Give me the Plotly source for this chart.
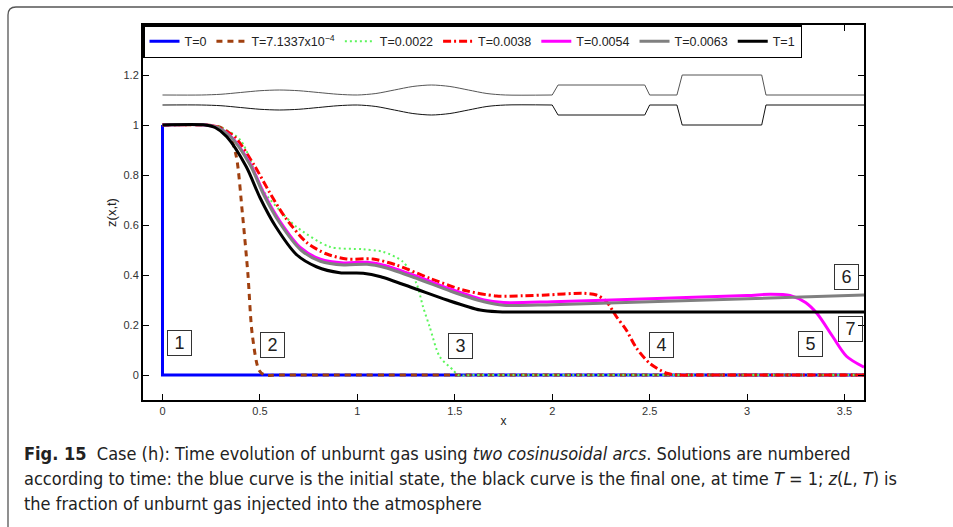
import plotly.graph_objects as go

# ---------------------------------------------------------------------------
# Solutions z(x, T) of the unburnt-gas fraction at several times
# ---------------------------------------------------------------------------
x_t0 = [0.0, 0.0, 3.6]
z_t0 = [1.0, 0.0, 0.0]

x_t1 = [0.0, 0.22, 0.3, 0.344, 0.379, 0.41, 0.438, 0.46, 0.495, 0.524, 0.6, 3.6]
z_t1 = [1.0, 1.0, 0.99, 0.96, 0.873, 0.647, 0.407, 0.167, 0.02, 0.0, 0.0, 0.0]

x_t2 = [0.0, 0.22, 0.3, 0.4, 0.515, 0.6, 0.687, 0.858, 1.029, 1.131, 1.234,
        1.303, 1.337, 1.371, 1.423, 1.491, 1.517, 1.6, 3.6]
z_t2 = [1.0, 1.0, 0.99, 0.94, 0.74, 0.66, 0.593, 0.513, 0.503, 0.493, 0.453,
        0.367, 0.273, 0.193, 0.073, 0.02, 0.0, 0.0, 0.0]

x_t3 = [0.0, 0.22, 0.29, 0.37, 0.47, 0.55, 0.63, 0.74, 0.84, 0.944, 1.08, 1.2,
        1.371, 1.542, 1.714, 1.85, 1.97, 2.16, 2.227, 2.279, 2.33, 2.38, 2.433,
        2.5, 2.587, 2.65, 2.75, 3.6]
z_t3 = [1.0, 1.0, 0.99, 0.953, 0.84, 0.73, 0.63, 0.53, 0.485, 0.464, 0.464, 0.44,
        0.387, 0.34, 0.316, 0.317, 0.32, 0.327, 0.32, 0.293, 0.233, 0.18, 0.107,
        0.047, 0.007, 0.0, 0.0, 0.0]

x_t4 = [0.0, 0.22, 0.28, 0.35, 0.45, 0.52, 0.6, 0.71, 0.81, 0.93, 1.05, 1.14,
        1.31, 1.48, 1.65, 1.75, 2.0, 2.5, 3.0, 3.12, 3.22, 3.3, 3.36, 3.44, 3.51, 3.6]
z_t4 = [1.0, 1.0, 0.99, 0.955, 0.845, 0.727, 0.618, 0.508, 0.463, 0.448, 0.451, 0.438,
        0.393, 0.343, 0.3, 0.29, 0.293, 0.305, 0.318, 0.323, 0.318, 0.29, 0.245,
        0.153, 0.075, 0.031]

x_t5 = [0.0, 0.22, 0.28, 0.35, 0.45, 0.52, 0.6, 0.71, 0.81, 0.93, 1.05, 1.14,
        1.31, 1.48, 1.65, 1.75, 2.0, 3.6]
z_t5 = [1.0, 1.0, 0.99, 0.953, 0.84, 0.72, 0.61, 0.5, 0.455, 0.44, 0.443, 0.43,
        0.385, 0.335, 0.293, 0.279, 0.281, 0.32]

x_t6 = [0.0, 0.22, 0.27, 0.33, 0.43, 0.5, 0.58, 0.69, 0.79, 0.91, 1.03, 1.12,
        1.29, 1.46, 1.63, 1.72, 1.8, 2.0, 3.6]
z_t6 = [1.0, 1.0, 0.99, 0.953, 0.833, 0.71, 0.595, 0.48, 0.433, 0.409, 0.407, 0.393,
        0.347, 0.3, 0.26, 0.253, 0.252, 0.252, 0.252]

series_names = ["T=0", "T=7.1337x10<sup>−4</sup>", "T=0.0022", "T=0.0038",
                "T=0.0054", "T=0.0063", "T=1"]

# ---------------------------------------------------------------------------
# Pipe sketch: wall offsets from the straight duct (two cosinusoidal arcs,
# then two rectangular chambers)
# ---------------------------------------------------------------------------
duct_center = 1.10
duct_half = 0.02
arc_x = [0.0, 0.2, 0.3, 0.4, 0.5, 0.6, 0.7, 0.8, 0.9, 1.0,
         1.095, 1.19, 1.285, 1.38, 1.475, 1.57, 1.665, 1.76, 2.0]
arc_off = [0.0, 0.0, 0.0029, 0.01, 0.0171, 0.02, 0.0171, 0.01, 0.0029, 0.0,
           0.0059, 0.02, 0.0341, 0.04, 0.0341, 0.02, 0.0059, 0.0, 0.0]
chamber_x = [2.0, 2.03, 2.475, 2.5, 2.64, 2.667, 3.075, 3.097, 3.6]
chamber_off = [0.0, 0.04, 0.04, 0.0, 0.0, 0.08, 0.08, 0.0, 0.0]

# Number labels for the solutions
label_text = ["1", "2", "3", "4", "5", "6", "7"]
label_x = [0.087, 0.562, 1.528, 2.563, 3.326, 3.508, 3.529]
label_y = [0.128, 0.12, 0.116, 0.122, 0.124, 0.392, 0.184]

# Figure geometry (pixels)
W, H = 953, 527
ML, MR, MT, MB = 143, 89, 25, 127
PW, PH = W - ML - MR, H - MT - MB


def paper_x(px):
    return (px - ML) / PW


def paper_y(py):
    return (H - MB - py) / PH


fig = go.Figure()

# pipe walls
for sign, col in ((1, "#555555"), (-1, "#111111")):
    fig.add_trace(go.Scatter(
        x=arc_x, y=[duct_center + sign * (duct_half + o) for o in arc_off],
        mode="lines", line=dict(color=col, width=1, shape="spline", smoothing=0.8),
        showlegend=False, hoverinfo="skip"))
    fig.add_trace(go.Scatter(
        x=chamber_x, y=[duct_center + sign * (duct_half + o) for o in chamber_off],
        mode="lines", line=dict(color=col, width=1),
        showlegend=False, hoverinfo="skip"))

styles = [
    dict(color="#0000ff", width=3),
    dict(color="#a0400f", width=3, dash="6px,5px"),
    dict(color="#5cf55c", width=2, dash="2px,3px"),
    dict(color="#ff0000", width=3, dash="8px,3px,2px,3px"),
    dict(color="#ff00ff", width=3),
    dict(color="#808080", width=3),
    dict(color="#000000", width=3),
]
data = [(x_t0, z_t0), (x_t1, z_t1), (x_t2, z_t2), (x_t3, z_t3),
        (x_t4, z_t4), (x_t5, z_t5), (x_t6, z_t6)]

for i, ((xs, zs), st, nm) in enumerate(zip(data, styles, series_names)):
    line = dict(st)
    if i > 0:
        line.update(shape="spline", smoothing=0.8)
    fig.add_trace(go.Scatter(x=xs, y=zs, mode="lines", name=nm, line=line))

# solution numbers in boxes
for t, xv, yv in zip(label_text, label_x, label_y):
    fig.add_annotation(x=xv, y=yv, xref="x", yref="y", text=t, showarrow=False,
                       font=dict(family="Liberation Sans", size=18, color="#222222"),
                       bordercolor="#333333", borderwidth=1, borderpad=1,
                       width=21, height=22, align="center", valign="middle")

# caption
caption = [
    "<b>Fig. 15</b>  Case (h): Time evolution of unburnt gas using "
    "<i>two cosinusoidal arcs</i>. Solutions are numbered",
    "according to time: the blue curve is the initial state, the black curve is "
    "the final one, at time <i>T</i> = 1; <i>z</i>(<i>L</i>, <i>T</i>) is",
    "the fraction of unburnt gas injected into the atmosphere",
]
for k, line_txt in enumerate(caption):
    fig.add_annotation(x=paper_x(22), y=paper_y(453 + 25 * k), xref="paper", yref="paper",
                       xanchor="left", yanchor="middle", text=line_txt, showarrow=False,
                       align="left",
                       font=dict(family="DejaVu Sans Condensed", size=18, color="#222222"))

# rounded outer frame
r = 8
x0, y0 = 8, 7
path = (f"M {paper_x(x0)},{paper_y(H + 20)} L {paper_x(x0)},{paper_y(y0 + r)} "
        f"Q {paper_x(x0)},{paper_y(y0)} {paper_x(x0 + r)},{paper_y(y0)} "
        f"L {paper_x(W + 20)},{paper_y(y0)}")
fig.add_shape(type="path", path=path, xref="paper", yref="paper",
              line=dict(color="#555555", width=1.3), layer="below")

axis_common = dict(showline=True, linecolor="black", linewidth=2, mirror="ticks",
                   ticks="inside", ticklen=6, tickwidth=1, tickcolor="black",
                   showgrid=False, zeroline=False,
                   tickfont=dict(family="Liberation Sans", size=11, color="#333333"))

fig.update_layout(
    width=W, height=H,
    margin=dict(l=ML, r=MR, t=MT, b=MB),
    paper_bgcolor="white", plot_bgcolor="white",
    font=dict(family="Liberation Sans", color="#222222"),
    xaxis=dict(range=[-0.1, 3.6], tickvals=[0, 0.5, 1, 1.5, 2, 2.5, 3, 3.5],
               ticktext=["0", "0.5", "1", "1.5", "2", "2.5", "3", "3.5"],
               title=dict(text="x", font=dict(size=12), standoff=0), **axis_common),
    yaxis=dict(range=[-0.1, 1.4], tickvals=[0, 0.2, 0.4, 0.6, 0.8, 1, 1.2],
               ticktext=["0", "0.2", "0.4", "0.6", "0.8", "1", "1.2"],
               title=dict(text="z(x,t)", font=dict(size=13), standoff=4), **axis_common),
    legend=dict(orientation="h", x=0, y=1, xanchor="left", yanchor="top",
                bordercolor="black", borderwidth=1.5, bgcolor="white",
                font=dict(family="Liberation Sans", size=12.5, color="#222222"),
                itemwidth=30),
    showlegend=True,
)

fig.write_html("out.html")
